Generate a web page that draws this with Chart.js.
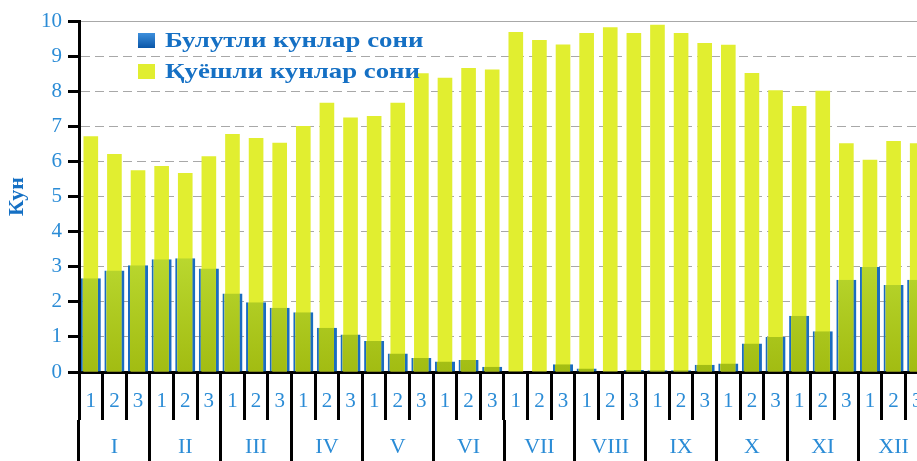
<!DOCTYPE html>
<html>
<head>
<meta charset="utf-8">
<script src="https://cdn.jsdelivr.net/npm/chart.js@4.4.1/dist/chart.umd.min.js"></script>
<style>
  html, body { margin: 0; padding: 0; background: #fff; overflow: hidden; }
  #wrap { position: relative; width: 929px; height: 461px; }
  .key { position: absolute; left: 138px; width: 17px; height: 15px; }
  .txt { position: absolute; left: 165px; font: bold 22px "Liberation Serif", "Times New Roman", serif;
         color: #1570c4; white-space: nowrap; transform: scaleX(1.22); transform-origin: left center; line-height: 22px; }
</style>
</head>
<body>
<div id="wrap">
  <canvas id="chart" width="929" height="461"></canvas>
  <div class="key" style="top:33px;background:linear-gradient(#3d8fdc,#0a56a8);"></div>
  <div class="txt" style="top:29px;">Булутли кунлар сони</div>
  <div class="key" style="top:64px;background:#e1ee30;"></div>
  <div class="txt" style="top:60px;">Қуёшли кунлар сони</div>
</div>
<script>
// decades of each month
const decades = ['1','2','3','1','2','3','1','2','3','1','2','3','1','2','3','1','2','3',
                 '1','2','3','1','2','3','1','2','3','1','2','3','1','2','3','1','2','3'];
const months = ['I','II','III','IV','V','VI','VII','VIII','IX','X','XI','XII'];

// cloudy days per decade
const cloudy = [2.67, 2.89, 3.04, 3.21, 3.24, 2.95, 2.24, 1.99, 1.83, 1.70, 1.26, 1.07,
                0.88, 0.53, 0.40, 0.30, 0.34, 0.15, 0, 0, 0.22, 0.10, 0, 0.06,
                0.05, 0.05, 0.21, 0.24, 0.81, 1.00, 1.60, 1.16, 2.63, 2.99, 2.48, 2.63];
// sunny days per decade
const sunny = [6.72, 6.21, 5.75, 5.87, 5.67, 6.15, 6.78, 6.67, 6.53, 7.01, 7.67, 7.25,
               7.29, 7.67, 8.51, 8.38, 8.66, 8.62, 9.69, 9.46, 9.33, 9.66, 9.82, 9.66,
               9.89, 9.66, 9.37, 9.32, 8.52, 8.03, 7.58, 8.01, 6.52, 6.05, 6.58, 6.52];

const yTicks = [0, 1, 2, 3, 4, 5, 6, 7, 8, 9, 10];

const serif = '"Liberation Serif", "Times New Roman", serif';
const tickBlue = '#2b8cd6';

function greenFill(c) {
  const chart = c.chart;
  if (!chart.chartArea) return '#b0cf24';
  const y = chart.scales.y;
  const g = chart.ctx.createLinearGradient(0, y.getPixelForValue(3.3), 0, y.getPixelForValue(0));
  g.addColorStop(0, '#bad82f');
  g.addColorStop(1, '#a2bc12');
  return g;
}

new Chart(document.getElementById('chart'), {
  type: 'bar',
  data: {
    labels: decades,
    datasets: [{
      label: 'Булутли кунлар сони',
      data: cloudy,
      backgroundColor: greenFill,
      borderColor: '#1a6cc0',
      borderWidth: { left: 2, right: 3, top: 0, bottom: 0 },
      borderSkipped: false,
      grouped: false,
      categoryPercentage: 1,
      barPercentage: 0.85
    }, {
      label: 'Қуёшли кунлар сони',
      data: sunny,
      backgroundColor: '#e1ee30',
      borderWidth: 0,
      grouped: false,
      categoryPercentage: 1,
      barPercentage: 0.62
    }]
  },
  options: {
    responsive: false,
    animation: false,
    layout: { padding: { top: 21, right: 0, bottom: 0, left: 0 } },
    plugins: {
      legend: { display: false },
      tooltip: { enabled: false }
    },
    scales: {
      x: {
        offset: true,
        border: { color: '#000', width: 3 },
        grid: { offset: true, drawOnChartArea: false, tickLength: 48, tickColor: '#000', tickWidth: 3 },
        ticks: { color: tickBlue, font: { family: serif, size: 21 }, padding: -31, autoSkip: false, maxRotation: 0 },
        afterFit: s => { s.height = 48; }
      },
      x2: {
        type: 'category',
        labels: months,
        position: 'bottom',
        weight: 1,
        offset: true,
        border: { display: false },
        grid: { offset: true, drawOnChartArea: false, tickLength: 41, tickColor: '#000', tickWidth: 3 },
        ticks: { color: tickBlue, font: { family: serif, size: 22 }, padding: -27, autoSkip: false, maxRotation: 0 },
        afterFit: s => { s.height = 41; }
      },
      y: {
        min: 0,
        max: 10,
        afterBuildTicks: s => { s.ticks = yTicks.map(v => ({ value: v })); },
        border: {
          color: '#000', width: 3,
          dash: c => (c.tick && c.tick.value === 10) ? [] : [9, 5]
        },
        grid: {
          color: c => (c.tick && c.tick.value === 0) ? 'rgba(0,0,0,0)' : '#a8a8a8',
          lineWidth: 1,
          tickLength: 11, tickColor: '#000', tickWidth: 3
        },
        ticks: { color: tickBlue, font: { family: serif, size: 21 }, padding: 6 },
        title: {
          display: true,
          text: 'Кун',
          color: '#1570c4',
          font: { family: serif, size: 22, weight: 'bold' },
          padding: { top: 4, bottom: 0 }
        },
        afterFit: s => { s.width = 79; }
      }
    }
  }
});
</script>
</body>
</html>
